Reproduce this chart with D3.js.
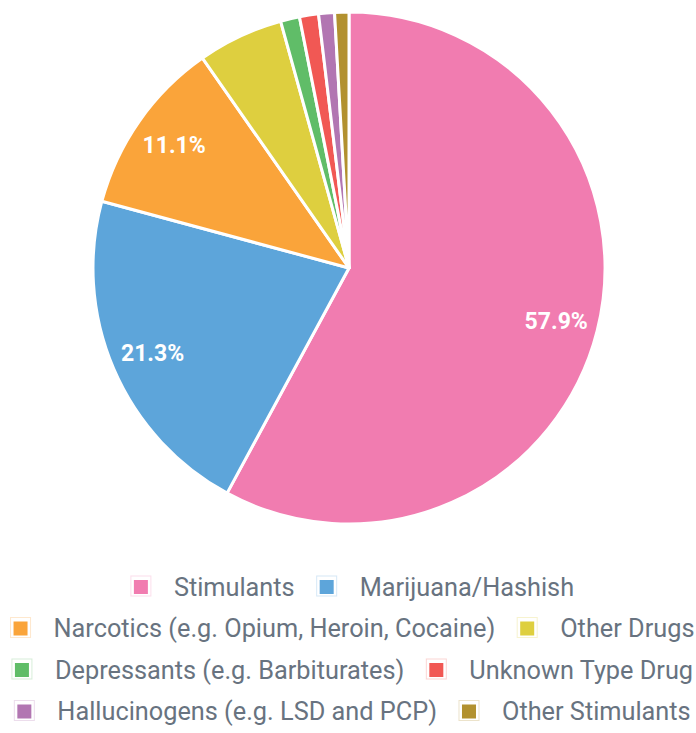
<!DOCTYPE html>
<html>
<head>
<meta charset="utf-8">
<script src="https://cdn.jsdelivr.net/npm/d3@7"></script>
<style>
  body { margin: 0; background: #fff; }
  svg { display: block; font-family: Roboto, "Noto Sans", sans-serif; }
</style>
</head>
<body>
<div id="chart"></div>
<script>
// datos del grafico
const categories = [
  "Stimulants",
  "Marijuana/Hashish",
  "Narcotics (e.g. Opium, Heroin, Cocaine)",
  "Other Drugs",
  "Depressants (e.g. Barbiturates)",
  "Unknown Type Drug",
  "Hallucinogens (e.g. LSD and PCP)",
  "Other Stimulants"
];
const values = [57.9, 21.3, 11.1, 5.4, 1.2, 1.2, 1.0, 0.9];
const colors = ["#f17cb0", "#5da5da", "#faa43a", "#decf3f", "#60bd68", "#f15854", "#b276b2", "#b2912f"];

const width = 696, height = 733;
const cx = 349, cy = 268, radius = 256;

const data = categories.map((c, i) => ({ name: c, value: values[i], color: colors[i] }));

const svg = d3.select("#chart")
  .append("svg")
  .attr("width", width)
  .attr("height", height);

// PIE
const pie = d3.pie().sort(null).value(d => d.value);
const arc = d3.arc().innerRadius(0).outerRadius(radius);
const labelArc = d3.arc().innerRadius(radius * 0.835).outerRadius(radius * 0.835);

const g = svg.append("g").attr("transform", "translate(" + cx + "," + cy + ")");

const arcs = pie(data);

g.selectAll("path")
  .data(arcs)
  .enter()
  .append("path")
  .attr("d", arc)
  .attr("fill", d => d.data.color)
  .attr("stroke", "#fff")
  .attr("stroke-width", 3)
  .attr("stroke-linejoin", "round");

// etiquetas solo para las porciones grandes
g.selectAll("text.pct")
  .data(arcs.filter(d => d.data.value >= 10))
  .enter()
  .append("text")
  .attr("class", "pct")
  .attr("transform", d => "translate(" + labelArc.centroid(d) + ")")
  .attr("text-anchor", "middle")
  .attr("dy", "0.36em")
  .attr("fill", "#fff")
  .style("font-size", "23px")
  .style("font-weight", "bold")
  .text(d => d.data.value.toFixed(1) + "%");

// LEYENDA
const legendFont = 25.3;
const box = 14, boxGap = 26, itemGap = 25;
const rowTop = 587, rowStep = 41.5, legendCenter = 354, maxRow = 690;

const legend = svg.append("g");
const items = legend.selectAll("g.item")
  .data(data)
  .enter()
  .append("g")
  .attr("class", "item");

items.append("rect")
  .attr("class", "frame")
  .attr("x", -3).attr("y", -box / 2 - 4)
  .attr("width", box + 6).attr("height", box + 6)
  .attr("fill", "none")
  .attr("stroke", d => d.color)
  .attr("stroke-opacity", 0.25);

items.append("rect")
  .attr("x", 0).attr("y", -box / 2)
  .attr("width", box).attr("height", box)
  .attr("fill", d => d.color);

items.append("text")
  .attr("x", box + boxGap)
  .attr("dy", "0.35em")
  .attr("fill", "#687380")
  .style("font-size", legendFont + "px")
  .text(d => d.name);

// medir y repartir por filas
const widths = [];
items.each(function() {
  const t = d3.select(this).select("text").node().getComputedTextLength();
  widths.push(box + boxGap + t);
});

const rows = [];
let cur = [], curW = 0;
widths.forEach((w, i) => {
  const add = cur.length ? itemGap + w : w;
  if (cur.length && curW + add > maxRow) {
    rows.push({ idx: cur, w: curW });
    cur = [i]; curW = w;
  } else {
    cur.push(i); curW += add;
  }
});
rows.push({ idx: cur, w: curW });

const pos = [];
rows.forEach((r, ri) => {
  let x = legendCenter - r.w / 2;
  r.idx.forEach(i => {
    pos[i] = [x, rowTop + ri * rowStep];
    x += widths[i] + itemGap;
  });
});

items.attr("transform", (d, i) => "translate(" + pos[i][0] + "," + pos[i][1] + ")");
</script>
</body>
</html>
